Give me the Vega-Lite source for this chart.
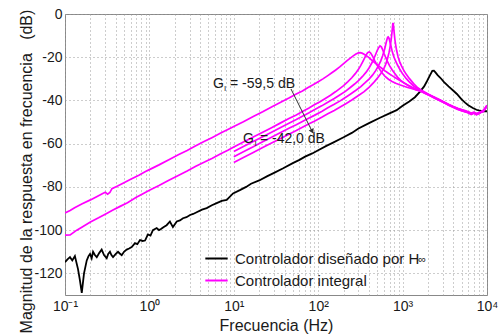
{
  "$schema": "https://vega.github.io/schema/vega-lite/v6.json",
  "width": 422,
  "height": 281,
  "autosize": {"type": "none"},
  "padding": {"left": 65, "top": 14, "right": 17, "bottom": 41},
  "background": "white",
  "config": {
    "font": "Liberation Sans",
    "view": {"stroke": "#888888", "strokeWidth": 1},
    "axis": {"labelColor": "#1a1a1a", "titleColor": "#1a1a1a"}
  },
  "datasets": {
    "h": [
      {"c":"H","f":0.1,"v":-114.8},{"c":"H","f":0.107,"v":-113.5},{"c":"H","f":0.1146,"v":-112.5},{"c":"H","f":0.122,"v":-114},{"c":"H","f":0.131,"v":-112},{"c":"H","f":0.1426,"v":-118},{"c":"H","f":0.15,"v":-123},{"c":"H","f":0.158,"v":-129},{"c":"H","f":0.168,"v":-120},{"c":"H","f":0.181,"v":-114},{"c":"H","f":0.19,"v":-112},{"c":"H","f":0.198,"v":-111},{"c":"H","f":0.207,"v":-113},{"c":"H","f":0.215,"v":-110},{"c":"H","f":0.226,"v":-111.5},{"c":"H","f":0.238,"v":-112.5},{"c":"H","f":0.255,"v":-110.5},{"c":"H","f":0.272,"v":-109},{"c":"H","f":0.29,"v":-111.5},{"c":"H","f":0.312,"v":-113},{"c":"H","f":0.325,"v":-111},{"c":"H","f":0.341,"v":-110},{"c":"H","f":0.355,"v":-111.5},{"c":"H","f":0.371,"v":-112.5},{"c":"H","f":0.4,"v":-111},{"c":"H","f":0.425,"v":-110},{"c":"H","f":0.445,"v":-110.8},{"c":"H","f":0.47,"v":-111.6},{"c":"H","f":0.5,"v":-110},{"c":"H","f":0.538,"v":-109},{"c":"H","f":0.575,"v":-108.5},{"c":"H","f":0.617,"v":-107.8},{"c":"H","f":0.675,"v":-106},{"c":"H","f":0.72,"v":-106.5},{"c":"H","f":0.774,"v":-104.6},{"c":"H","f":0.83,"v":-105},{"c":"H","f":0.887,"v":-104.8},{"c":"H","f":0.962,"v":-102},{"c":"H","f":1.03,"v":-102.5},{"c":"H","f":1.1,"v":-100},{"c":"H","f":1.22,"v":-99},{"c":"H","f":1.3,"v":-100},{"c":"H","f":1.37,"v":-99.5},{"c":"H","f":1.48,"v":-98.5},{"c":"H","f":1.6,"v":-97.7},{"c":"H","f":1.75,"v":-96},{"c":"H","f":1.9,"v":-98.6},{"c":"H","f":2.11,"v":-96},{"c":"H","f":2.3,"v":-95.5},{"c":"H","f":2.5,"v":-94.5},{"c":"H","f":2.75,"v":-94},{"c":"H","f":3.03,"v":-93},{"c":"H","f":3.3,"v":-92.5},{"c":"H","f":3.63,"v":-91.7},{"c":"H","f":4.2,"v":-90.5},{"c":"H","f":4.77,"v":-89.8},{"c":"H","f":5.5,"v":-88.5},{"c":"H","f":6.27,"v":-87.5},{"c":"H","f":7.2,"v":-86.5},{"c":"H","f":8.24,"v":-86},{"c":"H","f":9.0,"v":-84.5},{"c":"H","f":9.8,"v":-83},{"c":"H","f":11.8,"v":-81.5},{"c":"H","f":14,"v":-80},{"c":"H","f":16,"v":-78.5},{"c":"H","f":20,"v":-77},{"c":"H","f":25,"v":-75},{"c":"H","f":30,"v":-73.5},{"c":"H","f":38,"v":-71.5},{"c":"H","f":50,"v":-69},{"c":"H","f":60,"v":-67.5},{"c":"H","f":70,"v":-66},{"c":"H","f":85,"v":-64.5},{"c":"H","f":100,"v":-63},{"c":"H","f":125,"v":-61},{"c":"H","f":150,"v":-59.5},{"c":"H","f":200,"v":-57},{"c":"H","f":250,"v":-55},{"c":"H","f":300,"v":-53},{"c":"H","f":400,"v":-50.5},{"c":"H","f":540,"v":-48},{"c":"H","f":700,"v":-46},{"c":"H","f":850,"v":-44.5},{"c":"H","f":1000,"v":-42.5},{"c":"H","f":1200,"v":-40.5},{"c":"H","f":1400,"v":-38.5},{"c":"H","f":1600,"v":-36},{"c":"H","f":1800,"v":-33.5},{"c":"H","f":1950,"v":-31},{"c":"H","f":2100,"v":-28.5},{"c":"H","f":2250,"v":-26.3},{"c":"H","f":2350,"v":-26.2},{"c":"H","f":2450,"v":-27},{"c":"H","f":2600,"v":-28.3},{"c":"H","f":2800,"v":-29.5},{"c":"H","f":3100,"v":-31.5},{"c":"H","f":3500,"v":-33.5},{"c":"H","f":4000,"v":-35.5},{"c":"H","f":4400,"v":-37},{"c":"H","f":5000,"v":-39.5},{"c":"H","f":5500,"v":-41},{"c":"H","f":6000,"v":-42.2},{"c":"H","f":6800,"v":-43.5},{"c":"H","f":7500,"v":-44.3},{"c":"H","f":8000,"v":-44.6},{"c":"H","f":9000,"v":-45},{"c":"H","f":10000,"v":-45}
    ],
    "m": [
      {"c":"A","f":0.1,"v":-92},{"c":"A","f":0.115,"v":-90.9},{"c":"A","f":0.13,"v":-89.6},{"c":"A","f":0.16,"v":-87.8},{"c":"A","f":0.2,"v":-86},{"c":"A","f":0.24,"v":-84.4},{"c":"A","f":0.28,"v":-83},{"c":"A","f":0.3,"v":-82.5},{"c":"A","f":0.32,"v":-83.4},{"c":"A","f":0.34,"v":-82.6},{"c":"A","f":0.36,"v":-80.8},{"c":"A","f":0.42,"v":-79.6},{"c":"A","f":0.5,"v":-78.1},{"c":"A","f":0.6,"v":-76.5},{"c":"A","f":0.75,"v":-74.6},{"c":"A","f":0.9,"v":-72.9},{"c":"A","f":1,"v":-72},{"c":"A","f":1.3,"v":-69.8},{"c":"A","f":1.7,"v":-67.4},{"c":"A","f":2.2,"v":-65.1},{"c":"A","f":2.8,"v":-63.1},{"c":"A","f":3.5,"v":-61.1},{"c":"A","f":4.5,"v":-58.9},{"c":"A","f":5.5,"v":-57.2},{"c":"A","f":7,"v":-55.1},{"c":"A","f":8.5,"v":-53.4},{"c":"A","f":10,"v":-52},{"c":"A","f":13,"v":-49.8},{"c":"A","f":17,"v":-47.4},{"c":"A","f":22,"v":-45.2},{"c":"A","f":28,"v":-43},{"c":"A","f":35,"v":-41.1},{"c":"A","f":45,"v":-38.9},{"c":"A","f":55,"v":-37},{"c":"A","f":65,"v":-35.6},{"c":"A","f":75,"v":-34.1},{"c":"A","f":87,"v":-32.7},{"c":"A","f":100,"v":-31.3},{"c":"A","f":115,"v":-29.9},{"c":"A","f":130,"v":-28.5},{"c":"A","f":145,"v":-27.2},{"c":"A","f":160,"v":-26},{"c":"A","f":180,"v":-24.5},{"c":"A","f":200,"v":-23},{"c":"A","f":220,"v":-21.6},{"c":"A","f":240,"v":-20.4},{"c":"A","f":260,"v":-19.4},{"c":"A","f":280,"v":-18.5},{"c":"A","f":300,"v":-18},{"c":"A","f":315,"v":-17.9},{"c":"A","f":330,"v":-18.1},{"c":"A","f":350,"v":-18.6},{"c":"A","f":375,"v":-19.4},{"c":"A","f":400,"v":-20.2},{"c":"A","f":430,"v":-21.3},{"c":"A","f":470,"v":-22.6},{"c":"A","f":520,"v":-24},{"c":"A","f":570,"v":-25.2},{"c":"A","f":620,"v":-26.3},{"c":"A","f":680,"v":-27.4},{"c":"A","f":750,"v":-28.5},{"c":"A","f":830,"v":-29.6},{"c":"A","f":920,"v":-30.7},{"c":"A","f":1020,"v":-31.7},{"c":"A","f":1150,"v":-32.8},{"c":"A","f":1300,"v":-33.9},{"c":"A","f":1450,"v":-34.7},{"c":"A","f":1600,"v":-35.4},{"c":"A","f":1800,"v":-36.3},{"c":"A","f":2000,"v":-37.2},{"c":"A","f":2250,"v":-38.2},{"c":"A","f":2500,"v":-39.1},{"c":"A","f":2800,"v":-40},{"c":"A","f":3100,"v":-40.8},{"c":"A","f":3500,"v":-41.9},{"c":"A","f":4000,"v":-42.9},{"c":"A","f":4500,"v":-43.7},{"c":"A","f":5000,"v":-44.3},{"c":"A","f":5500,"v":-44.9},{"c":"A","f":6000,"v":-45.4},{"c":"A","f":6500,"v":-45.9},{"c":"A","f":7000,"v":-45.6},{"c":"A","f":7500,"v":-46.2},{"c":"A","f":8000,"v":-45.8},{"c":"A","f":8500,"v":-45.3},{"c":"A","f":9000,"v":-44.8},{"c":"A","f":9500,"v":-43.6},{"c":"A","f":10000,"v":-42.3},
      {"c":"B","f":0.1,"v":-102.3},{"c":"B","f":0.115,"v":-102.2},{"c":"B","f":0.138,"v":-100},{"c":"B","f":0.16,"v":-98.5},{"c":"B","f":0.2,"v":-96.2},{"c":"B","f":0.25,"v":-94.3},{"c":"B","f":0.3,"v":-92.6},{"c":"B","f":0.37,"v":-90.7},{"c":"B","f":0.45,"v":-89},{"c":"B","f":0.55,"v":-87.3},{"c":"B","f":0.7,"v":-84.8},{"c":"B","f":0.85,"v":-83},{"c":"B","f":1,"v":-81.5},{"c":"B","f":1.3,"v":-79.3},{"c":"B","f":1.7,"v":-76.9},{"c":"B","f":2.2,"v":-74.7},{"c":"B","f":2.8,"v":-72.6},{"c":"B","f":3.5,"v":-70.5},{"c":"B","f":4.5,"v":-68.5},{"c":"B","f":5.5,"v":-66.8},{"c":"B","f":7,"v":-64.6},{"c":"B","f":8.5,"v":-63},{"c":"B","f":10,"v":-61.5},{"c":"B","f":13,"v":-59.2},{"c":"B","f":17,"v":-56.9},{"c":"B","f":22,"v":-54.7},{"c":"B","f":28,"v":-52.6},{"c":"B","f":35,"v":-50.6},{"c":"B","f":45,"v":-48.4},{"c":"B","f":55,"v":-46.7},{"c":"B","f":65,"v":-45.1},{"c":"B","f":77,"v":-43.6},{"c":"B","f":90,"v":-42},{"c":"B","f":105,"v":-40.6},{"c":"B","f":120,"v":-39.2},{"c":"B","f":140,"v":-37.6},{"c":"B","f":160,"v":-36},{"c":"B","f":180,"v":-34.5},{"c":"B","f":200,"v":-33.1},{"c":"B","f":225,"v":-31.3},{"c":"B","f":250,"v":-29.5},{"c":"B","f":275,"v":-27.6},{"c":"B","f":300,"v":-25.6},{"c":"B","f":320,"v":-23.8},{"c":"B","f":340,"v":-21.8},{"c":"B","f":355,"v":-20.3},{"c":"B","f":370,"v":-18.9},{"c":"B","f":385,"v":-17.9},{"c":"B","f":400,"v":-17.6},{"c":"B","f":415,"v":-17.9},{"c":"B","f":430,"v":-18.8},{"c":"B","f":450,"v":-20.2},{"c":"B","f":470,"v":-21.8},{"c":"B","f":500,"v":-23.8},{"c":"B","f":530,"v":-25.4},{"c":"B","f":570,"v":-27.2},{"c":"B","f":620,"v":-28.9},{"c":"B","f":680,"v":-30.2},{"c":"B","f":750,"v":-31.2},{"c":"B","f":830,"v":-32},{"c":"B","f":920,"v":-32.7},{"c":"B","f":1020,"v":-33.3},{"c":"B","f":1150,"v":-34},{"c":"B","f":1300,"v":-34.6},{"c":"B","f":1450,"v":-35.1},{"c":"B","f":1600,"v":-35.6},{"c":"B","f":1800,"v":-36.4},{"c":"B","f":2000,"v":-37.3},{"c":"B","f":2250,"v":-38.4},{"c":"B","f":2500,"v":-39.3},{"c":"B","f":2800,"v":-40.1},{"c":"B","f":3100,"v":-41},{"c":"B","f":3500,"v":-42.1},{"c":"B","f":4000,"v":-43},{"c":"B","f":4500,"v":-43.9},{"c":"B","f":5000,"v":-44.6},{"c":"B","f":5500,"v":-45},{"c":"B","f":6000,"v":-45.6},{"c":"B","f":6500,"v":-46.2},{"c":"B","f":7000,"v":-45.8},{"c":"B","f":7500,"v":-46.4},{"c":"B","f":8000,"v":-46},{"c":"B","f":8500,"v":-45.4},{"c":"B","f":9000,"v":-45},{"c":"B","f":9500,"v":-43.8},{"c":"B","f":10000,"v":-42.5},
      {"c":"C","f":10,"v":-63.6},{"c":"C","f":13,"v":-61.3},{"c":"C","f":17,"v":-59},{"c":"C","f":22,"v":-56.8},{"c":"C","f":28,"v":-54.7},{"c":"C","f":35,"v":-52.7},{"c":"C","f":45,"v":-50.5},{"c":"C","f":55,"v":-48.8},{"c":"C","f":65,"v":-47.3},{"c":"C","f":77,"v":-45.8},{"c":"C","f":90,"v":-44.3},{"c":"C","f":110,"v":-42.5},{"c":"C","f":130,"v":-40.8},{"c":"C","f":155,"v":-39.1},{"c":"C","f":180,"v":-37.5},{"c":"C","f":210,"v":-35.8},{"c":"C","f":240,"v":-34},{"c":"C","f":270,"v":-32.4},{"c":"C","f":300,"v":-30.8},{"c":"C","f":335,"v":-28.9},{"c":"C","f":370,"v":-26.9},{"c":"C","f":400,"v":-25},{"c":"C","f":430,"v":-22.8},{"c":"C","f":455,"v":-20.8},{"c":"C","f":480,"v":-18.6},{"c":"C","f":500,"v":-16.9},{"c":"C","f":520,"v":-15.6},{"c":"C","f":540,"v":-14.8},{"c":"C","f":560,"v":-15.2},{"c":"C","f":580,"v":-16.5},{"c":"C","f":605,"v":-18.4},{"c":"C","f":630,"v":-20.1},{"c":"C","f":665,"v":-22.2},{"c":"C","f":700,"v":-23.9},{"c":"C","f":750,"v":-25.8},{"c":"C","f":800,"v":-27.3},{"c":"C","f":870,"v":-29.2},{"c":"C","f":950,"v":-30.7},{"c":"C","f":1050,"v":-32},{"c":"C","f":1150,"v":-33},{"c":"C","f":1300,"v":-34.2},{"c":"C","f":1450,"v":-35},{"c":"C","f":1600,"v":-35.5},{"c":"C","f":1800,"v":-36.5},{"c":"C","f":2000,"v":-37.4},{"c":"C","f":2250,"v":-38.3},{"c":"C","f":2500,"v":-39.2},{"c":"C","f":2800,"v":-40.2},{"c":"C","f":3100,"v":-41},{"c":"C","f":3500,"v":-42.2},{"c":"C","f":4000,"v":-43.2},{"c":"C","f":4500,"v":-44},{"c":"C","f":5000,"v":-44.8},{"c":"C","f":5500,"v":-45.2},{"c":"C","f":6000,"v":-45.8},{"c":"C","f":6500,"v":-46.5},{"c":"C","f":7000,"v":-45.9},{"c":"C","f":7500,"v":-46.6},{"c":"C","f":8000,"v":-46.1},{"c":"C","f":8500,"v":-45.5},{"c":"C","f":9000,"v":-45.2},{"c":"C","f":9500,"v":-44},{"c":"C","f":10000,"v":-42.6},
      {"c":"D","f":10,"v":-66},{"c":"D","f":13,"v":-63.7},{"c":"D","f":17,"v":-61.4},{"c":"D","f":22,"v":-59.1},{"c":"D","f":28,"v":-57},{"c":"D","f":35,"v":-55.1},{"c":"D","f":45,"v":-52.9},{"c":"D","f":55,"v":-51.2},{"c":"D","f":65,"v":-49.7},{"c":"D","f":77,"v":-48.2},{"c":"D","f":90,"v":-46.9},{"c":"D","f":110,"v":-45.1},{"c":"D","f":130,"v":-43.4},{"c":"D","f":155,"v":-41.8},{"c":"D","f":180,"v":-40.3},{"c":"D","f":210,"v":-38.6},{"c":"D","f":240,"v":-37.1},{"c":"D","f":280,"v":-35.3},{"c":"D","f":320,"v":-33.6},{"c":"D","f":360,"v":-31.8},{"c":"D","f":400,"v":-30.1},{"c":"D","f":440,"v":-28.3},{"c":"D","f":480,"v":-26.2},{"c":"D","f":515,"v":-24.1},{"c":"D","f":550,"v":-21.8},{"c":"D","f":580,"v":-19.3},{"c":"D","f":610,"v":-16.5},{"c":"D","f":630,"v":-14.2},{"c":"D","f":650,"v":-12},{"c":"D","f":665,"v":-10.8},{"c":"D","f":675,"v":-10.6},{"c":"D","f":690,"v":-11.2},{"c":"D","f":705,"v":-12.6},{"c":"D","f":725,"v":-14.6},{"c":"D","f":750,"v":-17},{"c":"D","f":780,"v":-19.3},{"c":"D","f":820,"v":-21.5},{"c":"D","f":870,"v":-23.6},{"c":"D","f":930,"v":-25.7},{"c":"D","f":1000,"v":-27.7},{"c":"D","f":1100,"v":-29.8},{"c":"D","f":1200,"v":-31.4},{"c":"D","f":1350,"v":-33.3},{"c":"D","f":1500,"v":-34.5},{"c":"D","f":1650,"v":-35.4},{"c":"D","f":1800,"v":-36.2},{"c":"D","f":2000,"v":-37.1},{"c":"D","f":2250,"v":-38.1},{"c":"D","f":2500,"v":-39},{"c":"D","f":2800,"v":-39.9},{"c":"D","f":3100,"v":-40.9},{"c":"D","f":3500,"v":-42},{"c":"D","f":4000,"v":-43.1},{"c":"D","f":4500,"v":-44.1},{"c":"D","f":5000,"v":-44.5},{"c":"D","f":5500,"v":-45.3},{"c":"D","f":6000,"v":-45.5},{"c":"D","f":6500,"v":-46.3},{"c":"D","f":7000,"v":-45.7},{"c":"D","f":7500,"v":-46.5},{"c":"D","f":8000,"v":-45.9},{"c":"D","f":8500,"v":-45.4},{"c":"D","f":9000,"v":-45},{"c":"D","f":9500,"v":-43.7},{"c":"D","f":10000,"v":-42.4},
      {"c":"E","f":10,"v":-68.7},{"c":"E","f":13,"v":-66.4},{"c":"E","f":17,"v":-64.1},{"c":"E","f":22,"v":-61.8},{"c":"E","f":28,"v":-59.7},{"c":"E","f":35,"v":-57.8},{"c":"E","f":45,"v":-55.6},{"c":"E","f":55,"v":-53.9},{"c":"E","f":65,"v":-52.4},{"c":"E","f":77,"v":-50.9},{"c":"E","f":90,"v":-49.6},{"c":"E","f":110,"v":-47.8},{"c":"E","f":130,"v":-46.2},{"c":"E","f":155,"v":-44.6},{"c":"E","f":180,"v":-43.1},{"c":"E","f":215,"v":-41.4},{"c":"E","f":250,"v":-39.8},{"c":"E","f":300,"v":-37.7},{"c":"E","f":350,"v":-35.9},{"c":"E","f":400,"v":-33.9},{"c":"E","f":450,"v":-31.9},{"c":"E","f":500,"v":-29.8},{"c":"E","f":550,"v":-27.6},{"c":"E","f":600,"v":-25.3},{"c":"E","f":630,"v":-23.3},{"c":"E","f":660,"v":-20.9},{"c":"E","f":690,"v":-17.9},{"c":"E","f":710,"v":-15.3},{"c":"E","f":730,"v":-12.2},{"c":"E","f":745,"v":-9.2},{"c":"E","f":757,"v":-6.5},{"c":"E","f":765,"v":-4.6},{"c":"E","f":770,"v":-4.1},{"c":"E","f":776,"v":-4.6},{"c":"E","f":785,"v":-6.5},{"c":"E","f":797,"v":-9.2},{"c":"E","f":810,"v":-11.8},{"c":"E","f":830,"v":-14.6},{"c":"E","f":850,"v":-16.9},{"c":"E","f":880,"v":-19.5},{"c":"E","f":920,"v":-21.9},{"c":"E","f":970,"v":-24},{"c":"E","f":1030,"v":-26},{"c":"E","f":1100,"v":-27.8},{"c":"E","f":1200,"v":-29.8},{"c":"E","f":1350,"v":-32.2},{"c":"E","f":1500,"v":-34},{"c":"E","f":1650,"v":-35.1},{"c":"E","f":1800,"v":-36},{"c":"E","f":2000,"v":-37},{"c":"E","f":2250,"v":-38},{"c":"E","f":2500,"v":-38.9},{"c":"E","f":2800,"v":-39.8},{"c":"E","f":3100,"v":-40.7},{"c":"E","f":3500,"v":-41.8},{"c":"E","f":4000,"v":-42.8},{"c":"E","f":4500,"v":-43.6},{"c":"E","f":5000,"v":-44.2},{"c":"E","f":5500,"v":-44.7},{"c":"E","f":6000,"v":-45.2},{"c":"E","f":6500,"v":-45.8},{"c":"E","f":7000,"v":-45.4},{"c":"E","f":7500,"v":-46},{"c":"E","f":8000,"v":-45.6},{"c":"E","f":8500,"v":-45.1},{"c":"E","f":9000,"v":-44.6},{"c":"E","f":9500,"v":-43.5},{"c":"E","f":10000,"v":-42.2}
    ],
    "txt": [
      {"f":5.67,"v":-34.2,"t":"G"},
      {"f":9.02,"v":-34.2,"t":"= -59,5 dB"},
      {"f":12.85,"v":-59.7,"t":"G"},
      {"f":20.4,"v":-59.7,"t":"= -42,0 dB"}
    ],
    "sub": [
      {"f":7.65,"v":-35.6,"t":"I"},
      {"f":17.6,"v":-61.1,"t":"I"}
    ],
    "arr": [
      {"f":47.6,"v":-34.7,"f2":85.5,"v2":-54.6}
    ],
    "head": [
      {"f":84.9,"v":-54.3}
    ],
    "inf": [
      {"f":1530,"v":-115,"t":"∞"}
    ]
  },
  "layer": [
    {
      "data": {"name": "h"},
      "mark": {"type": "line", "strokeWidth": 1.8, "clip": true},
      "encoding": {
        "x": {
          "field": "f", "type": "quantitative",
          "scale": {"type": "log", "domain": [0.1, 10000], "nice": false},
          "axis": {
            "values": [0.1,0.2,0.3,0.4,0.5,0.6,0.7,0.8,0.9,1,2,3,4,5,6,7,8,9,10,20,30,40,50,60,70,80,90,100,200,300,400,500,600,700,800,900,1000,2000,3000,4000,5000,6000,7000,8000,9000,10000],
            "labelExpr": "datum.value == 0.1 ? '10⁻¹' : datum.value == 1 ? '10⁰' : datum.value == 10 ? '10¹' : datum.value == 100 ? '10²' : datum.value == 1000 ? '10³' : datum.value == 10000 ? '10⁴' : ''",
            "labelFontSize": 14, "labelPadding": 4, "labelFlush": false, "labelOverlap": false, "labelBound": false,
            "grid": true, "gridDash": [1, 3], "gridColor": "#9a9a9a", "ticks": false, "domain": false,
            "title": "Frecuencia (Hz)", "titleFontSize": 16, "titleFontWeight": "normal",
            "titleY": 35, "titleBaseline": "alphabetic"
          }
        },
        "y": {
          "field": "v", "type": "quantitative",
          "scale": {"domain": [-130, 0], "nice": false},
          "axis": {
            "values": [-120,-110,-100,-90,-80,-70,-60,-50,-40,-30,-20,-10,0],
            "labelExpr": "datum.value % 20 == 0 ? '' + datum.value : ''",
            "labelFontSize": 14, "labelPadding": 3, "labelOverlap": false,
            "grid": true, "gridDash": [1, 3], "gridColor": "#9a9a9a", "ticks": false, "domain": false,
            "title": "Magnitud de la respuesta en frecuencia\u00a0\u00a0\u00a0(dB)", "titleFontSize": 16, "titleFontWeight": "normal",
            "titleX": -34, "titleY": 157, "titleAngle": 270, "titleAlign": "center", "titleBaseline": "alphabetic"
          }
        },
        "color": {
          "field": "c", "type": "nominal",
          "scale": {"domain": ["H","A","B","C","D","E"], "range": ["#000000","#ff00ff","#ff00ff","#ff00ff","#ff00ff","#ff00ff"]},
          "legend": {
            "values": ["H","A"],
            "labelExpr": "datum.value == 'H' ? 'Controlador diseñado por H' : 'Controlador integral'",
            "orient": "none", "legendX": 139, "legendY": 232, "title": null,
            "symbolType": "stroke", "symbolSize": 500, "symbolStrokeWidth": 2,
            "labelFontSize": 15, "labelOffset": 6, "rowPadding": 1, "padding": 0, "labelLimit": 400,
            "labelColor": "#1a1a1a"
          }
        }
      }
    },
    {
      "data": {"name": "m"},
      "mark": {"type": "line", "strokeWidth": 1.7, "clip": true},
      "encoding": {
        "x": {"field": "f", "type": "quantitative"},
        "y": {"field": "v", "type": "quantitative"},
        "color": {"field": "c", "type": "nominal"}
      }
    },
    {
      "data": {"name": "arr"},
      "mark": {"type": "rule", "color": "#333333", "strokeWidth": 1},
      "encoding": {
        "x": {"field": "f", "type": "quantitative"},
        "y": {"field": "v", "type": "quantitative"},
        "x2": {"field": "f2"},
        "y2": {"field": "v2"}
      }
    },
    {
      "data": {"name": "head"},
      "mark": {"type": "point", "shape": "triangle-down", "filled": true, "color": "#333333", "size": 30, "angle": 334, "opacity": 1},
      "encoding": {
        "x": {"field": "f", "type": "quantitative"},
        "y": {"field": "v", "type": "quantitative"}
      }
    },
    {
      "data": {"name": "txt"},
      "mark": {"type": "text", "align": "left", "baseline": "alphabetic", "fontSize": 14, "color": "#1a1a1a"},
      "encoding": {
        "x": {"field": "f", "type": "quantitative"},
        "y": {"field": "v", "type": "quantitative"},
        "text": {"field": "t"}
      }
    },
    {
      "data": {"name": "sub"},
      "mark": {"type": "text", "align": "left", "baseline": "alphabetic", "fontSize": 8, "color": "#1a1a1a"},
      "encoding": {
        "x": {"field": "f", "type": "quantitative"},
        "y": {"field": "v", "type": "quantitative"},
        "text": {"field": "t"}
      }
    },
    {
      "data": {"name": "inf"},
      "mark": {"type": "text", "align": "left", "baseline": "alphabetic", "fontSize": 11, "color": "#1a1a1a"},
      "encoding": {
        "x": {"field": "f", "type": "quantitative"},
        "y": {"field": "v", "type": "quantitative"},
        "text": {"field": "t"}
      }
    }
  ]
}
